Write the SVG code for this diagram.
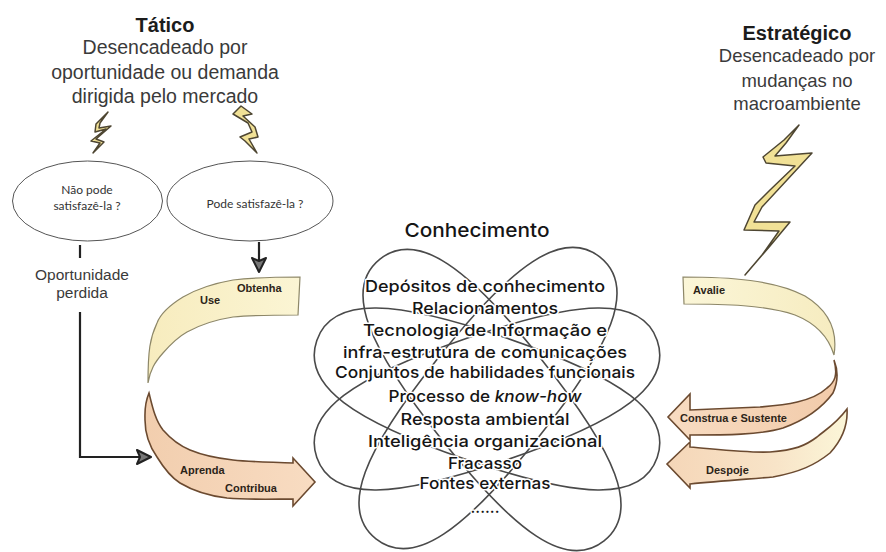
<svg xmlns="http://www.w3.org/2000/svg" xmlns:xlink="http://www.w3.org/1999/xlink" width="886" height="552" viewBox="0 0 886 552">
<style>
text{font-family:"Liberation Sans",Arial,sans-serif;fill:#2a2a2a;text-anchor:middle}
.title{font-size:20px;font-weight:700;fill:#1c1c1c}
.sub{font-size:19.5px;fill:#3a3a3a}
.q{font-family:"Lato","Liberation Sans",sans-serif;font-size:12px;fill:#333}
.opp{font-size:15.5px;fill:#3a3a3a}
.rib{font-size:11px;font-weight:700;text-anchor:start;fill:#2c2418}
.k{font-family:"Inter","Liberation Sans",sans-serif;font-weight:500;font-size:16.5px;fill:#151515;stroke:#fff;stroke-width:3px;paint-order:stroke;stroke-linejoin:round}
.orb{fill:none;stroke:#4a4a4a;stroke-width:1.6}
.oval{fill:#fff;stroke:#555;stroke-width:1}
.line{fill:none;stroke:#222;stroke-width:2.2}
.ry{stroke:#8d8768;stroke-width:1.2}
.rp{stroke:#6b4a30;stroke-width:1.6}
.bolt{stroke:#4e4632;stroke-width:1.5;stroke-linejoin:round;fill:#f1e196}
</style>
<defs>
<linearGradient id="yL" x1="0" y1="0" x2="1" y2="0"><stop offset="0" stop-color="#f7ecbe"/><stop offset="1" stop-color="#fbf5d4"/></linearGradient>
<linearGradient id="yR" x1="0" y1="0" x2="1" y2="0"><stop offset="0" stop-color="#fbf6d8"/><stop offset="1" stop-color="#f6ecc0"/></linearGradient>
<linearGradient id="pL" x1="0" y1="0" x2="1" y2="0"><stop offset="0" stop-color="#f2ceae"/><stop offset="1" stop-color="#f8dcc2"/></linearGradient>
<linearGradient id="pR" x1="0" y1="0" x2="1" y2="0"><stop offset="0" stop-color="#f8dcc2"/><stop offset="1" stop-color="#f2cbaa"/></linearGradient>
<linearGradient id="dR" x1="0" y1="0" x2="1" y2="0"><stop offset="0" stop-color="#f5d6b8"/><stop offset="0.6" stop-color="#f8e4c8"/><stop offset="1" stop-color="#fbf6d8"/></linearGradient>
<path id="orbit" class="orb" d="M-180 0C-180 -48 -118 -64 0 -64C118 -64 180 -48 180 0C180 48 118 64 0 64C-118 64 -180 48 -180 0Z"/>
<marker id="head" viewBox="0 0 16 16" refX="15" refY="8" markerWidth="16" markerHeight="16" markerUnits="userSpaceOnUse" orient="auto"><path d="M1 1L15 8L1 15L4 8Z" fill="#777" stroke="#222" stroke-width="2" stroke-linejoin="round"/></marker>
</defs>
<rect width="886" height="552" fill="#fff"/>

<g id="tatico-header">
<text class="title" x="165" y="32">Tático</text>
<text class="sub" x="165" y="54">Desencadeado por</text>
<text class="sub" x="165" y="79">oportunidade ou demanda</text>
<text class="sub" x="165" y="103">dirigida pelo mercado</text>
</g>
<g id="estrategico-header">
<text class="title" x="797" y="40">Estratégico</text>
<text class="sub" x="797" y="62" style="font-size:18.5px">Desencadeado por</text>
<text class="sub" x="797" y="87" style="font-size:18.5px">mudanças no</text>
<text class="sub" x="797" y="110" style="font-size:18.5px">macroambiente</text>
</g>

<g id="bolt-left"><path class="bolt" d="M108 112L96 124L95 132L106 129L91 141L100 143L93 153L104 142L96 139L111 126L99 128L100 123Z"/></g>
<g id="bolt-mid"><path class="bolt" d="M241 106L233 114L248 123L252 132L240 137L245 141L257 153L249 139L258 137L255 127L243 116L252 114Z"/></g>
<g id="bolt-right"><path class="bolt" d="M799 125L784 140L763 157L766 163L795 166L770 190L755 205L744 230L779 231L762 255L745 275L770 246L790 222L754 222L762 207L812 153L775 156L786 143Z"/></g>

<g id="node-nao-pode">
<ellipse class="oval" cx="87.500" cy="201" rx="75" ry="40"/>
<text class="q" x="87" y="194">Não pode</text>
<text class="q" x="87" y="210">satisfazê-la ?</text>
</g>
<g id="node-pode">
<ellipse class="oval" cx="250" cy="201" rx="83" ry="40"/>
<text class="q" x="255" y="208">Pode satisfazê-la ?</text>
</g>
<g id="label-oportunidade">
<text class="opp" x="82" y="280">Oportunidade</text>
<text class="opp" x="82" y="298">perdida</text>
</g>

<g id="connectors">
<path class="line" d="M80 245V258" stroke-width="2.5"/>
<path class="line" d="M259 242V272" marker-end="url(#head)"/>
<path class="line" d="M80 312V457H151" marker-end="url(#head)"/>
</g>

<g id="ribbon-use-obtenha">
<path class="ry" fill="url(#yL)" d="M300 277C270 277 250 278 233 280C210 284 195 290 183 297C170 305 160 315 157 323C150 338 148 350 148 383C150 370 155 362 163 353C170 345 178 337 187 332C205 322 220 319 233 317C255 315 275 315 298 315Z"/>
<text class="rib" x="200" y="304">Use</text>
<text class="rib" x="237" y="292">Obtenha</text>
</g>
<g id="ribbon-aprenda-contribua">
<path class="rp" fill="url(#pL)" d="M149 393C144 405 145 412 145 420C145 435 150 447 157 457C165 470 172 478 180 483C195 492 210 496 227 498C250 500 275 499 293 499V506L315 482L293 458V463C270 462 250 462 233 460C215 458 202 455 190 450C178 445 170 438 163 430C155 420 152 405 149 393Z"/>
<text class="rib" x="180" y="474">Aprenda</text>
<text class="rib" x="225" y="492">Contribua</text>
</g>
<g id="ribbon-avalie">
<path class="ry" fill="url(#yR)" d="M683 277C730 277 775 280 805 296C828 310 838 330 834 355C828 335 815 323 795 315C765 305 725 304 684 304Z"/>
<text class="rib" x="693" y="294">Avalie</text>
</g>
<g id="ribbon-construa">
<path class="rp" fill="url(#pR)" d="M834 360C838 375 835 382 827 388C812 402 785 405 760 407L690 410V394L668 417L690 440V435C725 435 760 435 783 428C805 420 822 408 833 393C838 382 838 370 834 360Z"/>
<text class="rib" x="680" y="422">Construa e Sustente</text>
</g>
<g id="ribbon-despoje">
<path class="rp" fill="url(#dR)" d="M847 409C835 425 825 430 817 437C805 446 795 450 770 452C745 453 715 449 690 447V442L667 464L690 488V484C720 481 750 479 773 477C800 472 815 465 830 453C842 440 848 425 847 409Z"/>
<text class="rib" x="706" y="474">Despoje</text>
</g>

<g id="node-conhecimento">
<use xlink:href="#orbit" href="#orbit" transform="translate(492 400) rotate(51.5)"/>
<use xlink:href="#orbit" href="#orbit" transform="translate(488 398) rotate(-51.5)"/>
<use xlink:href="#orbit" href="#orbit" transform="translate(487 399) rotate(19)"/>
<use xlink:href="#orbit" href="#orbit" transform="translate(487 399) rotate(-19)"/>
<text class="k" x="477" y="237" textLength="145" lengthAdjust="spacingAndGlyphs" style="font-size:19px">Conhecimento</text>
<text class="k" x="485" y="292" textLength="240" lengthAdjust="spacingAndGlyphs">Depósitos de conhecimento</text>
<text class="k" x="485" y="314" textLength="146" lengthAdjust="spacingAndGlyphs">Relacionamentos</text>
<text class="k" x="485" y="336" textLength="244" lengthAdjust="spacingAndGlyphs">Tecnologia de Informação e</text>
<text class="k" x="485" y="358" textLength="284" lengthAdjust="spacingAndGlyphs">infra-estrutura  de comunicações</text>
<text class="k" x="485" y="378" textLength="300" lengthAdjust="spacingAndGlyphs">Conjuntos de habilidades funcionais</text>
<text class="k" x="485" y="402" textLength="193" lengthAdjust="spacingAndGlyphs">Processo de <tspan font-style="italic">know-how</tspan></text>
<text class="k" x="485" y="425" textLength="169" lengthAdjust="spacingAndGlyphs">Resposta ambiental</text>
<text class="k" x="485" y="447" textLength="234" lengthAdjust="spacingAndGlyphs">Inteligência organizacional</text>
<text class="k" x="485" y="469" textLength="74" lengthAdjust="spacingAndGlyphs">Fracasso</text>
<text class="k" x="485" y="489" textLength="131" lengthAdjust="spacingAndGlyphs">Fontes externas</text>
<text class="k" x="485" y="513" textLength="29" lengthAdjust="spacingAndGlyphs">......</text>
</g>
</svg>
